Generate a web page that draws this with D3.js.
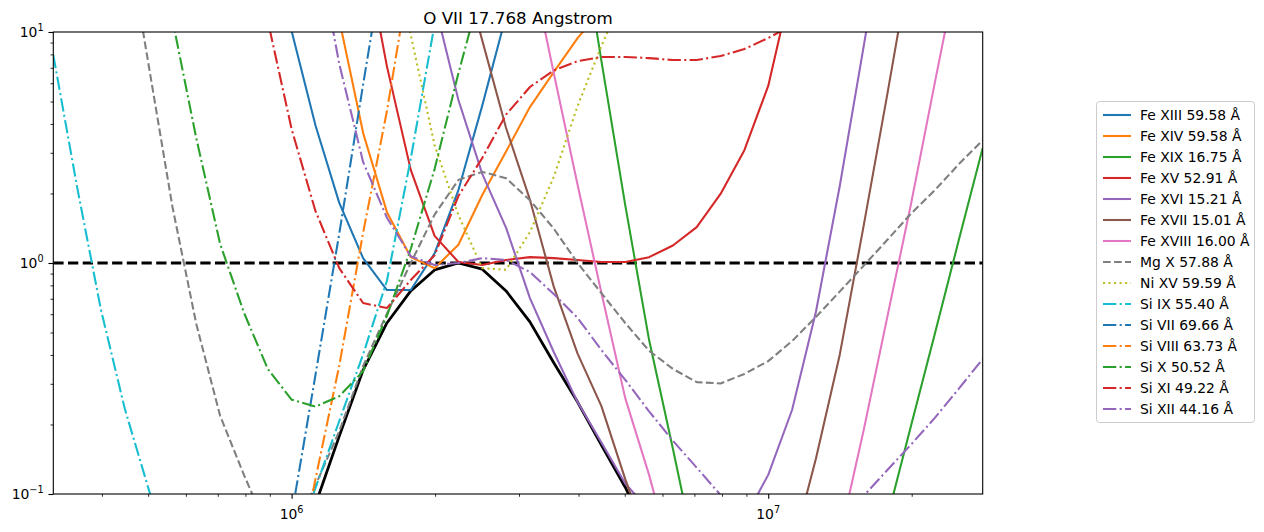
<!DOCTYPE html>
<html><head><meta charset="utf-8">
<script src="https://cdn.jsdelivr.net/npm/d3@7"></script>
<style>
body{margin:0;background:#fff}
svg{display:block}
text{font-family:"DejaVu Sans",sans-serif;fill:#000}
</style>
</head><body>
<svg id="chart" width="1264" height="532"></svg>
<script>
const _ = null;
// temperature grid (log10 T)
const logT = [5.50,5.55,5.60,5.65,5.70,5.75,5.80,5.85,5.90,5.95,
              6.00,6.05,6.10,6.15,6.20,6.25,6.30,6.35,6.40,6.45,
              6.50,6.55,6.60,6.65,6.70,6.75,6.80,6.85,6.90,6.95,
              7.00,7.05,7.10,7.15,7.20,7.25,7.30,7.35,7.40,7.45];

const oVII = [_,_,_,_,_,_,_,_,_,_,
  0.05,0.09,0.178,0.344,0.55,0.757,0.933,1.0,0.94,0.757,
  0.556,0.37,0.25,0.163,0.107,0.065,_,_,_,_,
  _,_,_,_,_,_,_,_,_,_];
const feXIII = [_,_,_,_,_,_,_,_,_,25,
  10.1,3.95,1.82,1.05,0.764,0.764,1.10,2.07,4.8,11.8,
  _,_,_,_,_,_,_,_,_,_,
  _,_,_,_,_,_,_,_,_,_];
const feXIV = [_,_,_,_,_,_,_,_,_,_,
  _,25,11.3,3.66,1.66,1.06,0.95,1.20,1.97,3.04,
  4.73,6.7,9.4,12.5,_,_,_,_,_,_,
  _,_,_,_,_,_,_,_,_,_];
const feXIX = [_,_,_,_,_,_,_,_,_,_,
  _,_,_,_,_,_,_,_,_,_,
  _,_,33,7.5,1.78,0.465,0.157,0.051,_,_,
  _,_,_,_,0.032,0.079,0.199,0.498,1.26,3.15];
const feXV = [_,_,_,_,_,_,_,_,_,_,
  _,_,_,25,7.1,2.53,1.31,1.01,0.98,1.03,
  1.06,1.05,1.03,1.01,1.01,1.06,1.19,1.43,1.99,3.08,
  5.84,16.4,_,_,_,_,_,_,_,_];
const feXVI = [_,_,_,_,_,_,_,_,_,_,
  _,_,_,_,_,40,13.3,5.08,2.43,1.42,
  0.705,0.412,0.25,0.167,0.111,0.085,_,_,_,0.078,
  0.121,0.231,0.614,2.15,8.6,35,_,_,_,_];
const feXVII = [_,_,_,_,_,_,_,_,_,_,
  _,_,_,_,_,_,_,22,9.2,3.84,
  1.88,0.79,0.405,0.24,0.116,0.06,_,_,_,_,
  _,0.057,0.142,0.40,1.44,5.4,21,_,_,_];
const feXVIII = [_,_,_,_,_,_,_,_,_,_,
  _,_,_,_,_,_,_,_,_,_,
  20.7,6.65,2.18,0.743,0.26,0.121,0.05,_,_,_,
  _,_,_,0.065,0.188,0.586,1.82,6.1,20,_];
const mgX = [_,_,_,30,7.2,1.75,0.545,0.218,0.121,0.07,
  0.064,0.109,0.187,0.358,0.604,1.0,1.62,2.29,2.48,2.33,
  1.87,1.41,1.0,0.74,0.55,0.417,0.348,0.305,0.301,0.331,
  0.376,0.459,0.584,0.752,0.972,1.26,1.64,2.07,2.68,3.40];
const niXV = [_,_,_,_,_,_,_,_,_,_,
  _,_,_,_,25,9.7,3.24,1.61,0.95,0.935,
  1.36,2.36,4.78,8.7,15,_,_,_,_,_,
  _,_,_,_,_,_,_,_,_,_];
const siIX = [7.95,2.13,0.627,0.234,0.105,0.05,_,_,_,_,
  0.054,0.106,0.207,0.402,0.838,2.83,10.8,40,_,_,
  _,_,_,_,_,_,_,_,_,_,
  _,_,_,_,_,_,_,_,_,_];
const siVII = [_,_,_,_,_,_,_,_,_,_,
  0.081,0.327,1.34,5.92,25,_,_,_,_,_,
  _,_,_,_,_,_,_,_,_,_,
  _,_,_,_,_,_,_,_,_,_];
const siVIII = [_,_,_,_,_,_,_,_,_,_,
  0.035,0.116,0.36,1.35,4.55,19,_,_,_,_,
  _,_,_,_,_,_,_,_,_,_,
  _,_,_,_,_,_,_,_,_,_];
const siX = [_,_,_,_,35,11.3,3.47,1.21,0.61,0.348,
  0.256,0.239,0.265,0.34,0.59,1.15,2.55,6.63,16,_,
  _,_,_,_,_,_,_,_,_,_,
  _,_,_,_,_,_,_,_,_,_];
const siXI = [_,_,_,_,_,_,_,_,30,11.2,
  3.8,1.68,0.95,0.671,0.638,0.844,1.08,1.95,2.85,4.39,
  5.78,6.82,7.48,7.8,7.8,7.71,7.56,7.56,7.87,8.44,
  9.42,10.7,_,_,_,_,_,_,_,_];
const siXII = [_,_,_,_,_,_,_,_,_,_,
  _,26,7.27,2.74,1.57,1.07,0.98,1.0,1.05,1.03,
  0.914,0.734,0.579,0.42,0.312,0.228,0.17,0.13,0.099,0.078,
  _,_,_,0.077,0.098,0.127,0.164,0.214,0.286,0.384];

const seriesNames = ["Fe XIII 59.58 Å","Fe XIV 59.58 Å","Fe XIX 16.75 Å","Fe XV 52.91 Å",
  "Fe XVI 15.21 Å","Fe XVII 15.01 Å","Fe XVIII 16.00 Å","Mg X 57.88 Å","Ni XV 59.59 Å",
  "Si IX 55.40 Å","Si VII 69.66 Å","Si VIII 63.73 Å","Si X 50.52 Å","Si XI 49.22 Å","Si XII 44.16 Å"];
const seriesValues = [feXIII,feXIV,feXIX,feXV,feXVI,feXVII,feXVIII,mgX,niXV,siIX,siVII,siVIII,siX,siXI,siXII];
const seriesColors = ["#1f77b4","#ff7f0e","#2ca02c","#d62728","#9467bd","#8c564b","#e377c2","#7f7f7f","#bcbd22","#17becf",
  "#1f77b4","#ff7f0e","#2ca02c","#d62728","#9467bd"];
const seriesStyles = ["solid","solid","solid","solid","solid","solid","solid","dashed","dotted","dashdot",
  "dashdot","dashdot","dashdot","dashdot","dashdot"];
const titleText = "O VII 17.768 Angstrom";
const xMajor = [1e6, 1e7];
const xMajorExp = ["6","7"];
const yMajor = [0.1, 1, 10];
const yMajorExp = ["−1","0","1"];
const refLevel = 1;

const dashMap = {solid:null, dashed:"7.7,3.33", dotted:"2.08,3.44", dashdot:"13.3,3.33,2.08,3.33"};

const L = 53.3, R = 982.7, T = 32, B = 494;
const svg = d3.select("#chart");
const x = d3.scaleLog().domain([Math.pow(10,5.5), Math.pow(10,7.45)]).range([L, R]);
const y = d3.scaleLog().domain([0.1, 10]).range([B, T]);

svg.append("defs").append("clipPath").attr("id","clip")
  .append("rect").attr("x",L).attr("y",T).attr("width",R-L).attr("height",B-T);

const plot = svg.append("g").attr("clip-path","url(#clip)");
const pts = arr => arr.map((v,i)=>({t:Math.pow(10,logT[i]), v}));
const line = d3.line().defined(d=>d.v!=null).x(d=>x(d.t)).y(d=>y(d.v));

// reference line and O VII curve
plot.append("line").attr("x1",L).attr("x2",R).attr("y1",y(refLevel)).attr("y2",y(refLevel))
  .attr("stroke","#000").attr("stroke-width",2.78).attr("stroke-dasharray","10.3,4.4");
plot.append("path").attr("d",line(pts(oVII))).attr("fill","none").attr("stroke","#000")
  .attr("stroke-width",2.78).attr("stroke-linejoin","round");

seriesValues.forEach((vals,k)=>{
  plot.append("path").attr("d",line(pts(vals))).attr("fill","none")
    .attr("stroke",seriesColors[k]).attr("stroke-width",2.08)
    .attr("stroke-linejoin","round")
    .attr("stroke-dasharray",dashMap[seriesStyles[k]]);
});

// axes
const xMinor = [];
[1e5,1e6,1e7].forEach(d=>{for(let m=2;m<=9;m++){const v=m*d; if(v>x.domain()[0]&&v<x.domain()[1]) xMinor.push(v);}});
const yMinor = [];
[0.1,1].forEach(d=>{for(let m=2;m<=9;m++) yMinor.push(m*d);});

const gx = svg.append("g").attr("transform",`translate(0,${B})`);
gx.call(d3.axisBottom(x).tickValues(xMajor).tickSize(4.86).tickFormat(""));
const gxm = svg.append("g").attr("transform",`translate(0,${B})`);
gxm.call(d3.axisBottom(x).tickValues(xMinor).tickSize(2.78).tickFormat(""));
const gy = svg.append("g").attr("transform",`translate(${L},0)`);
gy.call(d3.axisLeft(y).tickValues(yMajor).tickSize(4.86).tickFormat(""));
const gym = svg.append("g").attr("transform",`translate(${L},0)`);
gym.call(d3.axisLeft(y).tickValues(yMinor).tickSize(2.78).tickFormat(""));
[gx,gy].forEach(g=>g.selectAll(".tick line").attr("stroke","#000").attr("stroke-width",1.1));
[gxm,gym].forEach(g=>g.selectAll(".tick line").attr("stroke","#000").attr("stroke-width",0.83));
[gx,gxm,gy,gym].forEach(g=>g.select(".domain").remove());

// tick labels
xMajor.forEach((v,i)=>{
  const t = svg.append("text").attr("x",x(v)).attr("y",519).attr("text-anchor","middle").attr("font-size",13.9);
  t.append("tspan").text("10");
  t.append("tspan").attr("dy",-6.5).attr("font-size",9.7).text(xMajorExp[i]);
});
yMajor.forEach((v,i)=>{
  const t = svg.append("text").attr("x",43.6).attr("y",y(v)+5).attr("text-anchor","end").attr("font-size",13.9);
  t.append("tspan").text("10");
  t.append("tspan").attr("dy",-6.5).attr("font-size",9.7).text(yMajorExp[i]);
});

// frame
svg.append("rect").attr("x",L).attr("y",T).attr("width",R-L).attr("height",B-T)
  .attr("fill","none").attr("stroke","#000").attr("stroke-width",1.1);

// title
svg.append("text").attr("x",(L+R)/2).attr("y",23.5).attr("text-anchor","middle")
  .attr("font-size",16.7).text(titleText);

// legend
const lg = svg.append("g");
lg.append("rect").attr("x",1096.5).attr("y",101.5).attr("width",158).attr("height",321).attr("rx",3)
  .attr("fill","#fff").attr("fill-opacity",0.8).attr("stroke","#ccc").attr("stroke-width",1);
seriesNames.forEach((n,k)=>{
  const yy = 115 + k*21;
  lg.append("line").attr("x1",1103).attr("x2",1131).attr("y1",yy).attr("y2",yy)
    .attr("stroke",seriesColors[k]).attr("stroke-width",2.08)
    .attr("stroke-dasharray",dashMap[seriesStyles[k]]);
  lg.append("text").attr("x",1140).attr("y",yy+5).attr("font-size",13.9).text(n);
});
</script>
</body></html>
